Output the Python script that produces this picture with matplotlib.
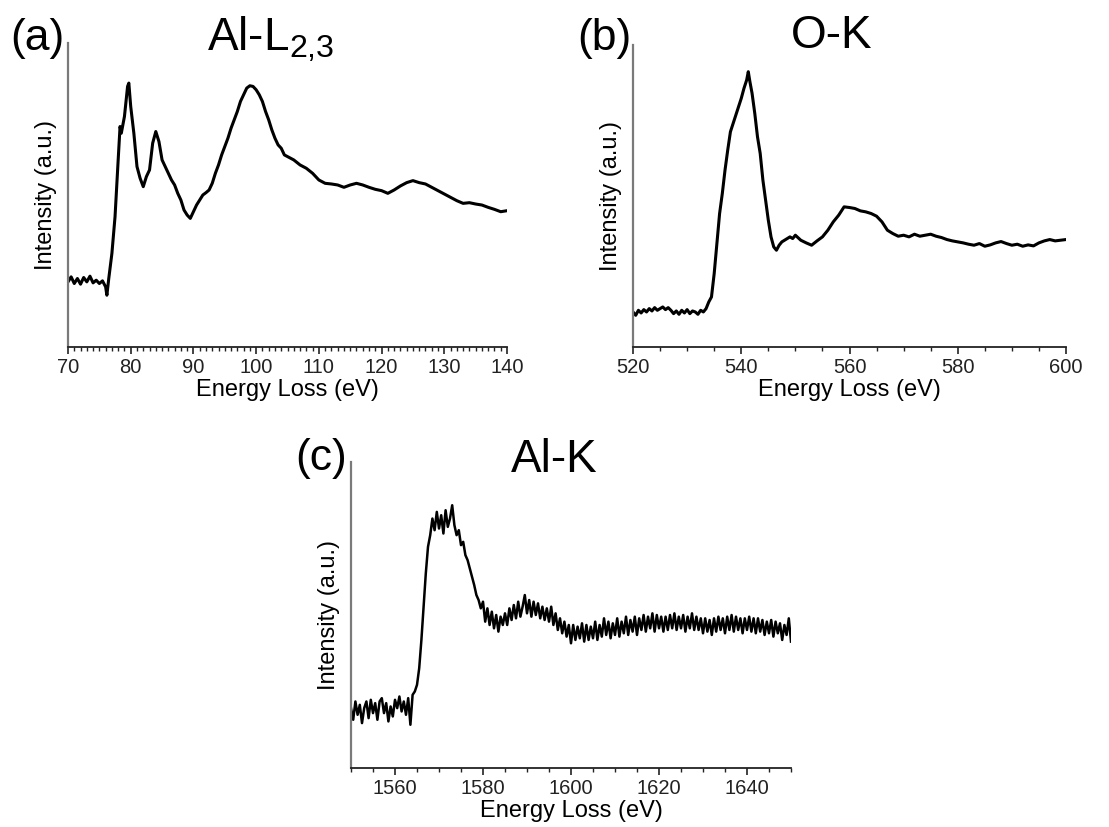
import numpy as np
import matplotlib
matplotlib.use("Agg")
import matplotlib.pyplot as plt
from matplotlib.ticker import MultipleLocator

plt.rcParams['font.family'] = ['Liberation Sans', 'DejaVu Sans']

# (a) Al-L2,3 edge : energy (eV), intensity (a.u.)
al_l_energy = [70, 70.5, 71, 71.5, 72, 72.5, 73, 73.5, 74, 74.5, 75, 75.5, 76, 76.2,
               76.5, 77, 77.5, 78, 78.3, 78.5, 79, 79.5, 79.7, 80, 80.5, 81, 81.5, 82,
               82.5, 83, 83.5, 84, 84.5, 85, 85.5, 86, 86.5, 87, 87.5, 88, 88.5, 89,
               89.5, 90, 90.5, 91, 91.5, 92, 92.5, 93, 93.5, 94, 94.5, 95, 95.5, 96,
               96.5, 97, 97.5, 98, 98.5, 99, 99.5, 100, 100.5, 101, 101.5, 102, 102.5,
               103, 103.5, 104, 104.5, 105, 105.5, 106, 107, 108, 109, 110, 111, 112,
               113, 114, 115, 116, 117, 118, 119, 120, 121, 122, 123, 124, 125, 126,
               127, 128, 129, 130, 131, 132, 133, 134, 135, 136, 137, 138, 139, 140]
al_l_int = [195, 210, 190, 205, 188, 208, 195, 212, 192, 200, 190, 198, 180, 155,
            205, 280, 390, 560, 660, 640, 690, 780, 790, 720, 640, 540, 505, 480,
            510, 530, 610, 645, 615, 560, 540, 520, 500, 485, 460, 440, 410, 395,
            385, 405, 425, 440, 455, 462, 470, 490, 520, 545, 575, 600, 625, 655,
            680, 705, 735, 755, 775, 782, 780, 770, 755, 735, 705, 680, 650,
            625, 605, 595, 575, 570, 565, 560, 545, 535, 520, 500, 490, 488,
            485, 478, 485, 490, 485, 478, 472, 468, 460, 470, 482, 492, 498, 492,
            488, 478, 468, 458, 448, 438, 430, 432, 428, 425, 418, 412, 405, 408]

# (b) O-K edge
o_k_energy = [520, 520.5, 521, 521.5, 522, 522.5, 523, 523.5, 524, 524.5, 525, 525.5,
              526, 526.5, 527, 527.5, 528, 528.5, 529, 529.5, 530, 530.5, 531, 531.5,
              532, 532.5, 533, 533.5, 534, 534.5, 535, 535.5, 536, 536.5, 537, 537.5,
              538, 538.5, 539, 539.5, 540, 540.5, 541, 541.3, 541.6, 542, 542.5, 543,
              543.5, 544, 544.5, 545, 545.5, 546, 546.5, 547, 547.5, 548, 548.5, 549,
              549.5, 550, 551, 552, 553, 554, 555, 556, 557, 558, 559, 560, 561, 562,
              563, 564, 565, 566, 567, 568, 569, 570, 571, 572, 573, 574, 575, 576,
              577, 578, 579, 580, 581, 582, 583, 584, 585, 586, 587, 588, 589, 590,
              591, 592, 593, 594, 595, 596, 597, 598, 599, 600]
o_k_int = [105, 95, 110, 102, 112, 105, 115, 108, 118, 110, 115, 120,
           112, 118, 110, 100, 108, 98, 110, 102, 112, 100, 108, 105,
           98, 110, 105, 115, 135, 150, 220, 310, 400, 460, 530, 590,
           645, 670, 695, 720, 745, 775, 800, 825, 795, 760, 700, 630,
           580, 500, 440, 380, 330, 300, 290, 305, 315, 320, 325, 330,
           325, 335, 320, 312, 305, 318, 330, 350, 375, 395, 420, 418, 415, 408,
           405, 400, 392, 375, 350, 340, 332, 335, 330, 338, 332, 335, 338, 332,
           328, 322, 318, 315, 312, 308, 305, 310, 302, 306, 312, 316, 310, 305,
           308, 302, 306, 303, 312, 318, 322, 318, 320, 322]

# (c) Al-K edge, channels every 0.5 eV from 1550 to 1650
al_k_energy = np.arange(1550, 1650.25, 0.5)
al_k_int = [180, 145, 200, 160, 190, 135, 180, 200, 150, 205,
            165, 195, 145, 200, 210, 165, 195, 140, 185, 155,
            205, 180, 215, 170, 200, 160, 210, 130, 220, 230,
            250, 300, 385, 485, 585, 665, 700, 750, 715, 770,
            720, 760, 705, 775, 725, 750, 790, 730, 700, 715,
            670, 680, 640, 625, 600, 575, 550, 520, 505, 480,
            500, 440, 480, 430, 470, 420, 460, 410, 455, 430,
            465, 430, 480, 445, 490, 450, 500, 455, 485, 520,
            465, 505, 455, 500, 460, 495, 450, 485, 445, 480,
            440, 485, 430, 465, 415, 450, 405, 440, 395, 430,
            375, 430, 385, 425, 390, 435, 380, 430, 385, 425,
            390, 440, 385, 430, 395, 450, 400, 440, 390, 435,
            400, 450, 395, 440, 405, 455, 400, 445, 410, 455,
            400, 450, 415, 460, 410, 455, 420, 465, 410, 460,
            420, 455, 410, 455, 415, 460, 420, 465, 415, 455,
            420, 460, 410, 455, 420, 465, 415, 455, 415, 450,
            405, 450, 410, 445, 400, 450, 410, 455, 415, 450,
            405, 455, 415, 460, 410, 455, 415, 450, 405, 450,
            415, 455, 410, 450, 405, 450, 410, 445, 400, 440,
            405, 445, 395, 440, 405, 435, 385, 430, 400, 450,
            380]

W, H = 1109, 827
fig = plt.figure(figsize=(W / 100, H / 100), dpi=100)


def px_axes(left, top, right, bottom):
    return fig.add_axes([left / W, 1 - bottom / H, (right - left) / W, (bottom - top) / H])


def style(ax, xlim, ylim, major, minor):
    ax.set_xlim(xlim)
    ax.set_ylim(ylim)
    ax.spines['top'].set_visible(False)
    ax.spines['right'].set_visible(False)
    ax.spines['left'].set_color('#7a7a7a')
    ax.spines['left'].set_linewidth(1.6)
    ax.spines['bottom'].set_color('#222222')
    ax.spines['bottom'].set_linewidth(1.3)
    ax.set_yticks([])
    ax.xaxis.set_major_locator(MultipleLocator(major))
    ax.xaxis.set_minor_locator(MultipleLocator(minor))
    ax.tick_params(axis='x', which='major', length=5, width=1.2, colors='#222222', pad=3)
    ax.tick_params(axis='x', which='minor', length=3, width=1.0, colors='#222222')
    for lab in ax.get_xticklabels():
        lab.set_fontfamily(['Liberation Sans Narrow', 'Liberation Sans'])
        lab.set_fontsize(14.5)
    ax.set_xlabel('Energy Loss (eV)', fontsize=17, labelpad=1)
    ax.set_ylabel('Intensity (a.u.)', fontsize=17, labelpad=8)


ax_a = px_axes(68, 43, 507, 347)
ax_a.plot(al_l_energy, al_l_int, color='black', lw=2.2)
style(ax_a, (70, 140), (0, 910), 10, 1)

ax_b = px_axes(633, 45, 1066, 347)
ax_b.plot(o_k_energy, o_k_int, color='black', lw=2.2)
style(ax_b, (520, 600), (0, 905), 20, 5)

ax_c = px_axes(351, 462, 791, 768)
ax_c.plot(al_k_energy, al_k_int, color='black', lw=1.8)
style(ax_c, (1550, 1650), (0, 920), 20, 5)

# panel letters and edge names
fig.text(37 / W, 1 - 50 / H, '(a)', fontsize=32, ha='center', va='baseline')
fig.text(271 / W, 1 - 50 / H, r'Al-L$_\mathregular{2{,}3}$', fontsize=33, ha='center', va='baseline')
fig.text(604 / W, 1 - 50 / H, '(b)', fontsize=32, ha='center', va='baseline')
fig.text(832 / W, 1 - 48 / H, 'O-K', fontsize=33, ha='center', va='baseline')
fig.text(321 / W, 1 - 470 / H, '(c)', fontsize=32, ha='center', va='baseline')
fig.text(554 / W, 1 - 472 / H, 'Al-K', fontsize=33, ha='center', va='baseline')

fig.savefig('out.png', dpi=100)
